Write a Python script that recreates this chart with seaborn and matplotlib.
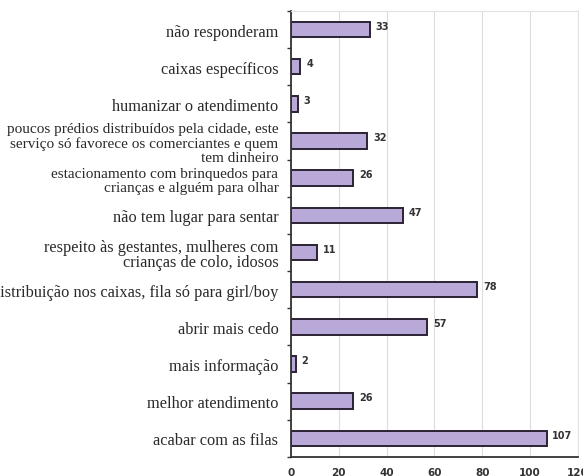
import matplotlib
matplotlib.use("Agg")
import matplotlib.pyplot as plt
import seaborn as sns
import pandas as pd

categories = [
    "não responderam",
    "caixas específicos",
    "humanizar o atendimento",
    "poucos prédios distribuídos pela cidade, este\nserviço só favorece os comerciantes e quem\ntem dinheiro",
    "estacionamento com brinquedos para\ncrianças e alguém para olhar",
    "não tem lugar para sentar",
    "respeito às gestantes, mulheres com\ncrianças de colo, idosos",
    "distribuição nos caixas, fila só para girl/boy",
    "abrir mais cedo",
    "mais informação",
    "melhor atendimento",
    "acabar com as filas",
]
counts = [33, 4, 3, 32, 26, 47, 11, 78, 57, 2, 26, 107]
x_ticks = [0, 20, 40, 60, 80, 100, 120]

df = pd.DataFrame({"categoria": categories, "total": counts})

sns.set_theme(style="white")
plt.rcParams["font.family"] = ["DejaVu Sans"]

fig = plt.figure(figsize=(5.83, 4.77), dpi=100)
ax = fig.add_axes([0.499, 0.040, 0.492, 0.935])

sns.barplot(data=df, y="categoria", x="total", orient="h", ax=ax,
            color="#b9a9d9", saturation=1, width=0.42,
            edgecolor="#2b2233", linewidth=1.4)

ax.set_xlim(0, 120)
ax.set_ylim(len(categories) - 0.5, -0.5)
ax.set_xticks(x_ticks)
ax.set_xticklabels([str(t) for t in x_ticks], fontsize=7.5, fontweight="bold",
                   color="#333333")
ax.set_xlabel("")
ax.set_ylabel("")

# category labels on the left
ax.set_yticks(range(len(categories)))
ax.set_yticklabels(categories, family="Liberation Serif", fontsize=11.8,
                   color="#2a2a2a", linespacing=0.98)
# the two longer wrapped labels are set a bit smaller and looser
for i in (3, 4):
    lab = ax.get_yticklabels()[i]
    lab.set_fontsize(11.0)
    lab.set_linespacing(1.12)
ax.tick_params(axis="y", length=0, pad=9)
ax.tick_params(axis="x", length=4, width=1, color="#333333", direction="out",
               pad=3)

# small outward marks at the category boundaries
for b in range(len(categories) + 1):
    ax.plot([-1.7, 0], [b - 0.5, b - 0.5], color="#333333", lw=1,
            clip_on=False, solid_capstyle="butt")

ax.grid(axis="x", color="#dcdcdc", lw=0.8)
ax.set_axisbelow(True)
for side in ["top", "right"]:
    ax.spines[side].set_color("#e2e2e2")
    ax.spines[side].set_linewidth(0.8)
ax.spines["left"].set_color("#333333")
ax.spines["left"].set_linewidth(1.3)
ax.spines["bottom"].set_color("#333333")
ax.spines["bottom"].set_linewidth(1.3)

for i, v in enumerate(counts):
    ax.text(v + 2.4, i - 0.1, str(v), fontsize=7, fontweight="bold",
            color="#333333", va="center", ha="left")

fig.savefig("out.png", dpi=100, facecolor="white")
